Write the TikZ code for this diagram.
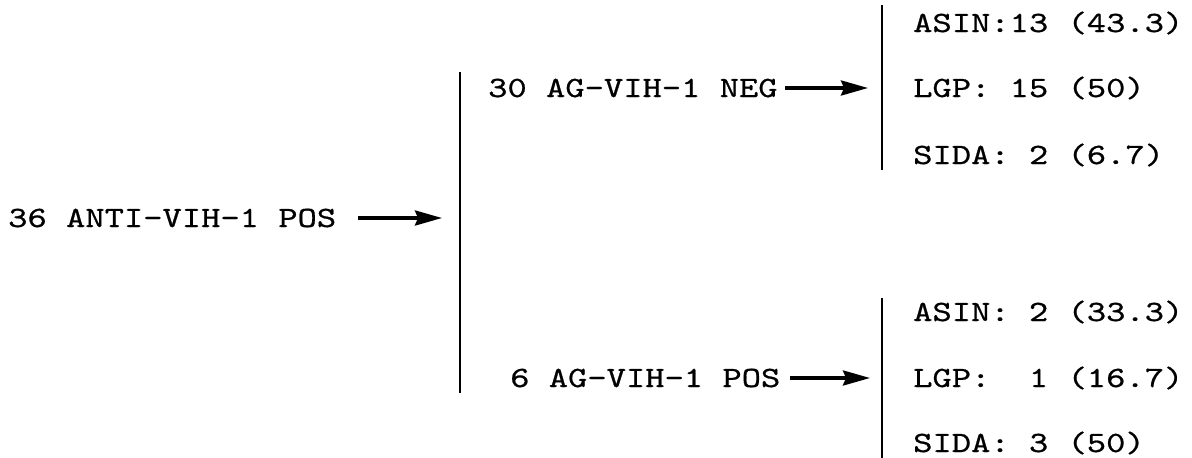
\documentclass[tikz,border=0pt]{standalone}
\usepackage{fontspec}
\usetikzlibrary{arrows.meta,calc}

% typewriter labels: widened and slightly emboldened Latin Modern Mono
\newfontfamily\lbltt{lmmono10-regular.otf}[FakeStretch=1.25,FakeBold=0.7]
\newcommand{\lblfont}{\lbltt\fontsize{29.4}{34}\selectfont}

\tikzset{
  lbl/.style={anchor=base west, inner sep=0pt, text height=18pt, text depth=0pt,
              font=\lblfont},
  bar/.style={line width=2.8pt},
  arr/.style={line width=3.2pt, -{Stealth[length=27pt,width=15pt,inset=3pt]}}
}

\begin{document}
\begin{tikzpicture}[x=1pt,y=1pt]
  \useasboundingbox (0,0) rectangle (1192,-458);

  % splitting bars
  \coordinate (b1top) at (460,-72);
  \coordinate (b1bot) at (460,-393);
  \coordinate (b2top) at (882,-5);
  \coordinate (b2bot) at (882,-170);
  \coordinate (b3top) at (882,-298);
  \coordinate (b3bot) at (882,-458);
  \draw[bar] (b1top) -- (b1bot);
  \draw[bar] (b2top) -- (b2bot);
  \draw[bar] (b3top) -- (b3bot);

  % left column
  \node[lbl] (root) at (8,-227) {36 ANTI-VIH-1 POS};

  % middle column
  \node[lbl] (neg) at (488,-97) {30 AG-VIH-1 NEG};
  \node[lbl] (pos) at (510,-387) {6 AG-VIH-1 POS};

  % outcomes for the antigen-negative group
  \node[lbl] (n1) at (913,-32)  {ASIN:13 (43.3)};
  \node[lbl] (n2) at (913,-97)  {LGP: 15 (50)};
  \node[lbl] (n3) at (913,-164) {SIDA: 2 (6.7)};

  % outcomes for the antigen-positive group
  \node[lbl] (p1) at (913,-321) {ASIN: 2 (33.3)};
  \node[lbl] (p2) at (913,-387) {LGP:\ \ 1 (16.7)};
  \node[lbl] (p3) at (913,-452) {SIDA: 3 (50)};

  % arrows into the bars
  \draw[arr] ([xshift=-102pt]root.east -| b1top) -- ([xshift=-18pt]root.east -| b1top);
  \draw[arr] ([xshift=-97pt]neg.east -| b2top)   -- ([xshift=-14pt]neg.east -| b2top);
  \draw[arr] ([xshift=-92pt]pos.east -| b3top)   -- ([xshift=-12pt]pos.east -| b3top);
\end{tikzpicture}
\end{document}
